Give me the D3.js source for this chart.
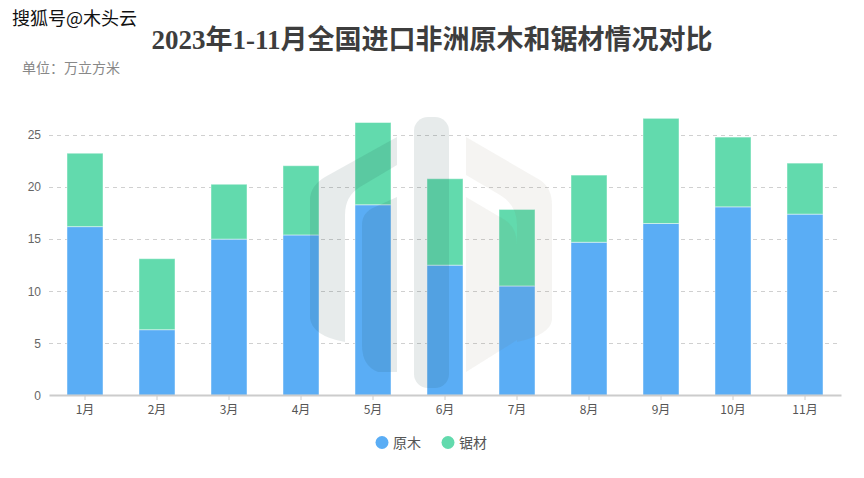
<!DOCTYPE html>
<html><head><meta charset="utf-8">
<script src="https://cdn.jsdelivr.net/npm/d3@7"></script>
<style>
html,body{margin:0;padding:0;background:#fff;}
svg{display:block;}
</style>
</head><body>
<svg id="chart" width="864" height="478"></svg>
<script>
const months = ["1月","2月","3月","4月","5月","6月","7月","8月","9月","10月","11月"];
const logs = [16.2, 6.3, 15.0, 15.4, 18.3, 12.5, 10.5, 14.7, 16.5, 18.1, 17.4];
const sawn = [7.05, 6.82, 5.27, 6.65, 7.9, 8.3, 7.35, 6.45, 10.1, 6.7, 4.9];
const seriesNames = ["原木","锯材"];
const yTicks = [0,5,10,15,20,25];
const colors = ["#5aadf5","#62daad"];

const svg = d3.select("#chart");
const margin = {left:49, right:23, top:110, bottom:83};
const W = 864, H = 478;
const x = d3.scaleBand().domain(months).range([margin.left, W - margin.right]).paddingInner(0).paddingOuter(0);
const y = d3.scaleLinear().domain([0, 25]).range([395.3, 135]);

// grid
svg.append("g").selectAll("line").data(yTicks.filter(d=>d>0)).join("line")
  .attr("x1", margin.left).attr("x2", W - margin.right)
  .attr("y1", d=>Math.round(y(d))+0.5).attr("y2", d=>Math.round(y(d))+0.5)
  .attr("stroke","#d0d0d0").attr("stroke-dasharray","4,4").attr("stroke-width",1);

// bars
const data = months.map((m,i)=>({m, a:logs[i], b:sawn[i]}));
const stack = d3.stack().keys(["a","b"])(data);
const bw = x.bandwidth()*0.5;
svg.append("g").selectAll("g").data(stack).join("g")
  .attr("fill",(d,i)=>colors[i])
  .selectAll("rect").data(d=>d).join("rect")
  .attr("x", d=>x(d.data.m) + (x.bandwidth()-bw)/2)
  .attr("width", bw)
  .attr("y", d=>y(d[1]))
  .attr("height", d=>y(d[0]) - y(d[1]))
  .attr("stroke","rgba(255,255,255,0.45)").attr("stroke-width",1);

// watermark logo
const wm = svg.append("g");
wm.append("path").attr("d","M397,137 L397,165 L360,187 Q345,196 345,215 L345,342 Q312,336 310,318 L310,200 Q310,186 325,177 Z")
  .attr("fill","rgb(20,60,60)").attr("fill-opacity",0.1);
wm.append("path").attr("d","M397,197 L397,372 L378,372 Q362,366 362,345 L362,225 Q362,212 375,207 Z")
  .attr("fill","rgb(20,60,60)").attr("fill-opacity",0.1);
wm.append("rect").attr("x",414).attr("y",117).attr("width",35).attr("height",271).attr("rx",14)
  .attr("fill","rgb(20,60,60)").attr("fill-opacity",0.1);
wm.append("path").attr("d","M466,137 L540,180 Q552,188 552,205 L552,320 Q550,335 517,342 L517,225 Q517,205 500,195 L466,175 Z")
  .attr("fill","rgb(120,100,70)").attr("fill-opacity",0.07);
wm.append("path").attr("d","M466,197 L505,220 Q517,228 517,245 L517,340 L466,372 Z")
  .attr("fill","rgb(120,100,70)").attr("fill-opacity",0.07);

// x axis
const xAxis = d3.axisBottom(x).tickSize(5).tickSizeOuter(0);
const gx = svg.append("g").attr("transform",`translate(0,${Math.round(y(0))})`).call(xAxis);
gx.select(".domain").attr("stroke","#ccc").attr("stroke-width",2);
gx.selectAll(".tick line").attr("stroke","#ccc");
gx.selectAll(".tick text").attr("fill","#555").attr("font-size",12)
  .attr("font-family","'Noto Sans CJK SC','Noto Sans',sans-serif").attr("dy","0.9em");

// y axis
const yAxis = d3.axisLeft(y).tickValues(yTicks).tickSize(0).tickPadding(8);
const gy = svg.append("g").attr("transform",`translate(${margin.left},0)`).call(yAxis);
gy.select(".domain").remove();
gy.selectAll(".tick text").attr("fill","#666").attr("font-size",12)
  .attr("font-family","'Liberation Sans','DejaVu Sans',sans-serif");

// title
svg.append("text").attr("x",432).attr("y",49).attr("text-anchor","middle")
  .attr("font-family","'Liberation Serif','Noto Sans CJK SC',serif").attr("font-weight","bold")
  .attr("font-size",27).attr("fill","#3d3d3d")
  .text("2023年1-11月全国进口非洲原木和锯材情况对比");

// unit
svg.append("text").attr("x",22).attr("y",73)
  .attr("font-family","'Noto Sans CJK SC',sans-serif").attr("font-size",14).attr("fill","#888")
  .text("单位：万立方米");

// watermark text
svg.append("text").attr("x",12).attr("y",25)
  .attr("font-family","'Noto Sans CJK SC',sans-serif").attr("font-size",18).attr("fill","#111")
  .attr("stroke","#fff").attr("stroke-width",2).attr("paint-order","stroke")
  .text("搜狐号@木头云");

// legend
const lg = svg.append("g");
const lx = [382, 448];
seriesNames.forEach((n,i)=>{
  lg.append("circle").attr("cx",lx[i]).attr("cy",442.5).attr("r",6.5).attr("fill",colors[i]);
  lg.append("text").attr("x",lx[i]+11).attr("y",447.5)
    .attr("font-family","'Noto Sans CJK SC',sans-serif").attr("font-size",14).attr("fill","#555").text(n);
});
</script>
</body></html>
